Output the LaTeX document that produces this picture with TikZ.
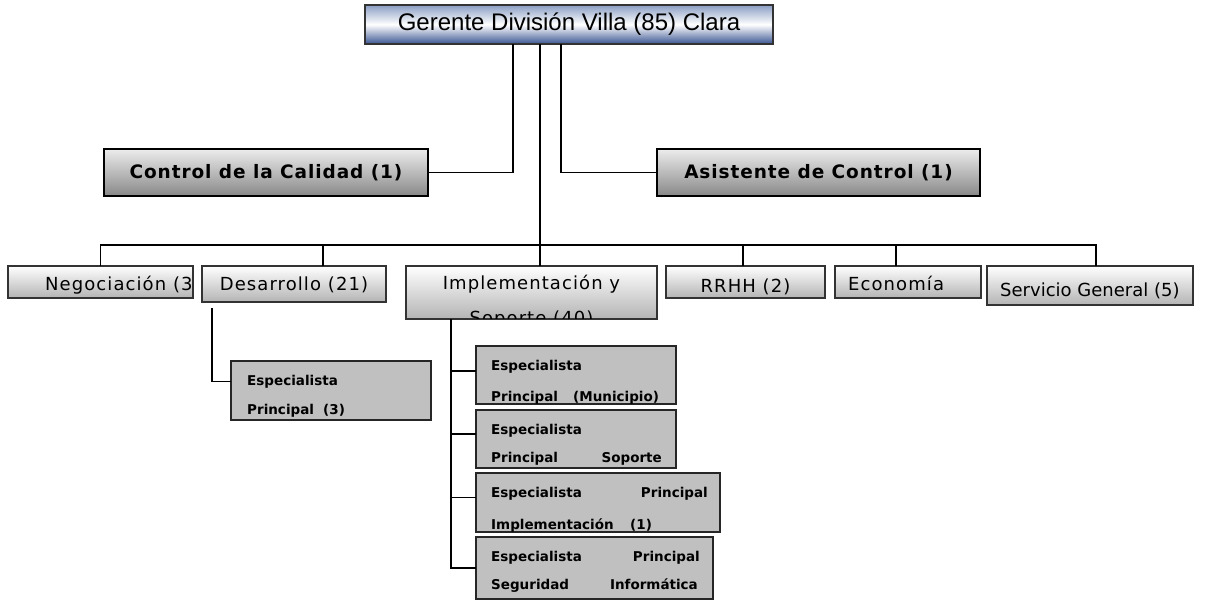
\documentclass[tikz,border=0pt]{standalone}
\usepackage{fontspec}
\usetikzlibrary{calc}
\newfontfamily\arialfam{Liberation Sans}
\newfontfamily\ctrlfam[LetterSpace=5]{DejaVu Sans}
\newfontfamily\unitfam[LetterSpace=6]{DejaVu Sans}
\newfontfamily\plainfam{DejaVu Sans}
\newcommand\headfont{\arialfam\fontsize{24}{28}\selectfont}
\newcommand\ctrlfont{\ctrlfam\bfseries\fontsize{18.5}{22}\selectfont}
\newcommand\unitfont{\unitfam\fontsize{18}{21}\selectfont}
\newcommand\servfont{\plainfam\fontsize{18}{21}\selectfont}
\newcommand\specfont{\plainfam\bfseries\fontsize{13.5}{16}\selectfont}
% text kept inside the border of box #1
\newcommand\inside[2]{\begin{scope}\clip ([shift={(0.8pt,0.8pt)}]#1.south west) rectangle ([shift={(-0.8pt,-0.8pt)}]#1.north east);#2\end{scope}}
% text placed in box #1, measured from its top-left / top-right / top-centre
\newcommand\placeL[5]{\node[anchor=base west,inner sep=0pt,font=#2] at ([shift={(#3,#4)}]#1.north west) {#5};}
\newcommand\placeR[5]{\node[anchor=base east,inner sep=0pt,font=#2] at ([shift={(-#3,#4)}]#1.north east) {#5};}
\newcommand\placeC[4]{\node[anchor=base,inner sep=0pt,font=#2] at ([shift={(0,#3)}]#1.north) {#4};}
\definecolor{headtop}{HTML}{8A9EC4}
\definecolor{headbot}{HTML}{3A5592}
\definecolor{ctrltop}{HTML}{ECECEC}
\definecolor{ctrlbot}{HTML}{888888}
\definecolor{unitbot}{HTML}{B4B4B4}
\definecolor{specfill}{HTML}{C0C0C0}
\begin{document}
\begin{tikzpicture}[x=1pt,y=-1pt,
  box/.style={anchor=north west, inner sep=0pt, outer sep=0pt},
  headbox/.style={box, draw=black!80, line width=1.6pt, top color=headtop, bottom color=headbot, middle color=white, font=\headfont},
  ctrlbox/.style={box, draw=black, line width=2pt, top color=ctrltop, bottom color=ctrlbot, font=\ctrlfont},
  unitbox/.style={box, draw=black!80, line width=1.3pt, top color=white, bottom color=unitbot},
  specbox/.style={box, draw=black!85, line width=1.5pt, fill=specfill},
  link/.style={draw=black, line width=1.7pt},
]
\useasboundingbox (0,0) rectangle (1209,600);

% head of the division
\node[headbox, minimum width=408pt, minimum height=39pt] (top) at (365,5) {Gerente División Villa (85) Clara};

% staff positions
\node[ctrlbox, minimum width=324pt, minimum height=47pt] (ctrl) at (104,149) {Control de la Calidad (1)};
\node[ctrlbox, minimum width=323pt, minimum height=47pt] (asis) at (657,149) {Asistente de Control (1)};

% departments
\node[unitbox, minimum width=185pt, minimum height=32pt] (neg) at (8,266) {};
\node[unitbox, minimum width=184pt, minimum height=36pt] (des) at (202,266) {};
\node[unitbox, minimum width=251pt, minimum height=53pt] (imp) at (406,266) {};
\node[unitbox, minimum width=159pt, minimum height=32pt] (rrhh) at (666,266) {};
\node[unitbox, minimum width=146pt, minimum height=32pt] (eco) at (835,266) {};
\node[unitbox, minimum width=206pt, minimum height=39pt] (serv) at (987,266) {};
\inside{neg}{\placeL{neg}{\unitfont}{37}{24}{Negociación (3)}}
\inside{des}{\placeC{des}{\unitfont}{24}{Desarrollo (21)}}
\inside{imp}{\placeC{imp}{\unitfont}{23}{Implementación y}\placeC{imp}{\unitfont}{58}{Soporte (40)}}
\inside{rrhh}{\placeC{rrhh}{\unitfont}{26}{RRHH (2)}}
\inside{eco}{\placeL{eco}{\unitfont}{13}{24}{Economía}}
\inside{serv}{\placeL{serv}{\servfont}{13}{30}{Servicio General (5)}}

% specialists
\node[specbox, minimum width=200pt, minimum height=59pt] (spec0) at (231,361) {};
\node[specbox, minimum width=200pt, minimum height=58pt] (s1) at (476,346) {};
\node[specbox, minimum width=200pt, minimum height=58pt] (s2) at (476,410) {};
\node[specbox, minimum width=244pt, minimum height=59pt] (s3) at (476,473) {};
\node[specbox, minimum width=237pt, minimum height=62pt] (s4) at (476,537) {};
\inside{spec0}{\placeL{spec0}{\specfont}{16}{24}{Especialista}\placeL{spec0}{\specfont}{16}{53}{Principal}\placeL{spec0}{\specfont}{92}{53}{(3)}}
\inside{s1}{\placeL{s1}{\specfont}{15}{24}{Especialista}\placeL{s1}{\specfont}{15}{55}{Principal}\placeL{s1}{\specfont}{97}{55}{(Municipio)}}
\inside{s2}{\placeL{s2}{\specfont}{15}{24}{Especialista}\placeL{s2}{\specfont}{15}{52}{Principal}\placeR{s2}{\specfont}{14}{52}{Soporte}}
\inside{s3}{\placeL{s3}{\specfont}{15}{24}{Especialista}\placeR{s3}{\specfont}{12}{24}{Principal}\placeL{s3}{\specfont}{15}{56}{Implementación}\placeL{s3}{\specfont}{154}{56}{(1)}}
\inside{s4}{\placeL{s4}{\specfont}{15}{24}{Especialista}\placeR{s4}{\specfont}{13}{24}{Principal}\placeL{s4}{\specfont}{15}{52}{Seguridad}\placeR{s4}{\specfont}{15}{52}{Informática}}

% connectors from the head
\draw[link] ([xshift=-56pt]top.south) |- (ctrl.east);
\draw[link] ([xshift=-8pt]top.south) |- (asis.west);
\draw[link] ([xshift=-29pt]top.south) -- ([xshift=8.5pt]imp.north);

% department bus
\draw[link] (neg.north) -- ++(0,-21) -| ([xshift=6pt]serv.north);
\draw[link] ([xshift=29pt]des.north) -- ++(0,-21);
\draw[link] ([xshift=-2.5pt]rrhh.north) -- ++(0,-21);
\draw[link] ([xshift=-12pt]eco.north) -- ++(0,-21);

% development specialist
\draw[link] ([xshift=-82pt,yshift=-6pt]des.south) |- ([yshift=9pt]spec0.west);

% implementation specialists
\coordinate (trunk) at ([xshift=-80.5pt]imp.south);
\coordinate (t1) at ([yshift=4pt]s1.west);
\coordinate (t2) at ([yshift=5pt]s2.west);
\coordinate (t3) at ([yshift=5pt]s3.west);
\draw[link] (trunk) |- (s4.west);
\draw[link] (t1) -- (t1 -| trunk);
\draw[link] (t2) -- (t2 -| trunk);
\draw[link] (t3) -- (t3 -| trunk);
\end{tikzpicture}
\end{document}
